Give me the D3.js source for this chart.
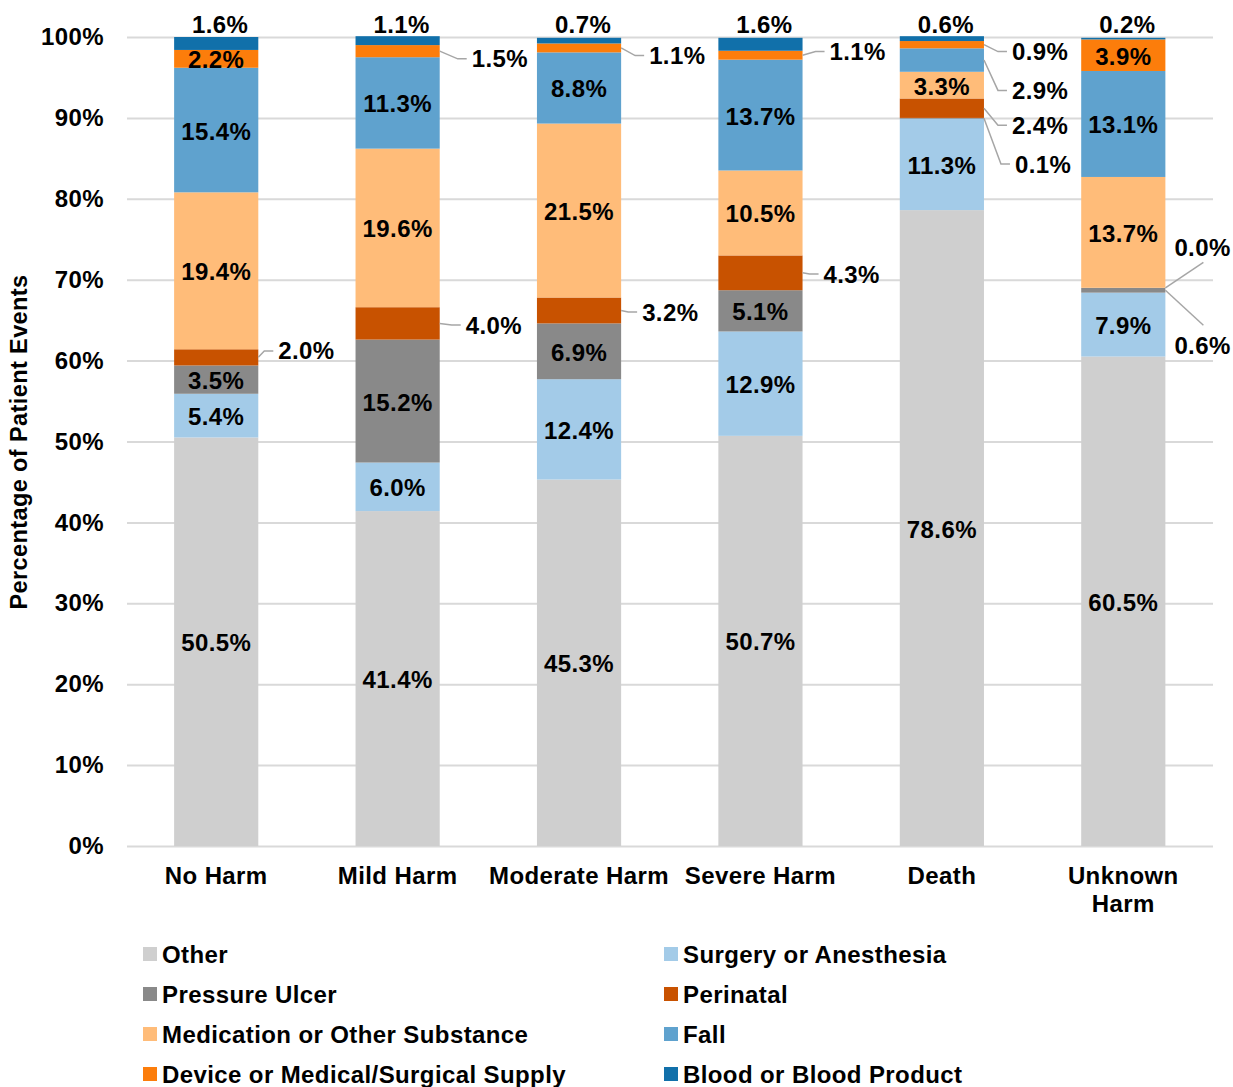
<!DOCTYPE html>
<html>
<head>
<meta charset="utf-8">
<script src="https://cdn.jsdelivr.net/npm/d3@7"></script>
<style>
  html, body { margin: 0; padding: 0; background: #fff; }
  svg { display: block; font-family: "Liberation Sans", Arial, sans-serif; font-weight: bold; }
  svg text { letter-spacing: 0.4px; }
</style>
</head>
<body>
<svg id="chart" width="1233" height="1087"></svg>
<script>
// ---- Data ----
const categories = ["No Harm", "Mild Harm", "Moderate Harm", "Severe Harm", "Death", "Unknown Harm"];
const seriesNames = ["Other", "Surgery or Anesthesia", "Pressure Ulcer", "Perinatal",
  "Medication or Other Substance", "Fall", "Device or Medical/Surgical Supply", "Blood or Blood Product"];
const other      = [50.5, 41.4, 45.3, 50.7, 78.6, 60.5];
const surgery    = [5.4, 6.0, 12.4, 12.9, 11.3, 7.9];
const pressure   = [3.5, 15.2, 6.9, 5.1, 0.1, 0.6];
const perinatal  = [2.0, 4.0, 3.2, 4.3, 2.4, 0.0];
const medication = [19.4, 19.6, 21.5, 10.5, 3.3, 13.7];
const fall       = [15.4, 11.3, 8.8, 13.7, 2.9, 13.1];
const device     = [2.2, 1.5, 1.1, 1.1, 0.9, 3.9];
const blood      = [1.6, 1.1, 0.7, 1.6, 0.6, 0.2];
const yTicks = [0, 10, 20, 30, 40, 50, 60, 70, 80, 90, 100];
const categoryLines = [["No Harm"], ["Mild Harm"], ["Moderate Harm"], ["Severe Harm"], ["Death"], ["Unknown", "Harm"]];

// ---- Styling / layout ----
const colors = ["#cfcfcf", "#a3cbe8", "#898989", "#c85200", "#ffbc79", "#5fa2ce", "#fc7d0b", "#1170aa"];
const seriesValues = [other, surgery, pressure, perinatal, medication, fall, device, blood];
// labels drawn outside the bar with a leader line: category index, series index, label level (in % units), offset
const outsideLabels = [
  {c: 0, s: 3, level: 61.2, dx: 20},
  {c: 1, s: 6, level: 97.3, dx: 32},
  {c: 1, s: 3, level: 64.4, dx: 26},
  {c: 2, s: 6, level: 97.7, dx: 28},
  {c: 2, s: 3, level: 66.0, dx: 21},
  {c: 3, s: 6, level: 98.2, dx: 27},
  {c: 3, s: 3, level: 70.7, dx: 21},
  {c: 4, s: 6, level: 98.2, dx: 28},
  {c: 4, s: 5, level: 93.4, dx: 28},
  {c: 4, s: 3, level: 89.1, dx: 28},
  {c: 4, s: 2, level: 84.3, dx: 31},
  {c: 5, s: 3, level: 74.0, dx: 9, mode: "up"},
  {c: 5, s: 2, level: 61.9, dx: 9, mode: "down"}
];

const svg = d3.select("#chart");
const FS = 24;

const x = d3.scaleBand().domain(categories).range([125.5, 1214]).paddingInner(0.536).paddingOuter(0.268);
const y = d3.scaleLinear().domain([0, 100]).range([846, 37]);

// rows
const rows = categories.map((c, i) => {
  const r = {cat: c};
  seriesNames.forEach((s, j) => r[s] = seriesValues[j][i]);
  return r;
});
const stacked = d3.stack().keys(seriesNames)(rows);

// gridlines
const yAxis = d3.axisLeft(y).tickValues(yTicks).tickFormat(d => d + "%").tickSize(-(1213 - 127)).tickPadding(23);
const gAxis = svg.append("g").attr("transform", "translate(127,0)").call(yAxis);
gAxis.select(".domain").remove();
gAxis.selectAll(".tick line").attr("stroke", "#d9d9d9").attr("stroke-width", 2);
gAxis.selectAll(".tick text").attr("fill", "#000").attr("font-size", FS).attr("font-weight", "bold")
  .attr("font-family", "Liberation Sans, Arial, sans-serif");

// bars
const layers = svg.append("g").selectAll("g").data(stacked).join("g")
  .attr("fill", (d, i) => colors[i]);
layers.selectAll("rect").data(d => d).join("rect")
  .attr("x", d => x(d.data.cat))
  .attr("width", x.bandwidth())
  .attr("y", d => y(d[1]))
  .attr("height", d => Math.max(0, y(d[0]) - y(d[1])));

// labels
const fmt = v => v.toFixed(1) + "%";
const lab = svg.append("g").attr("font-size", FS).attr("fill", "#000");
const isOutside = (c, s) => outsideLabels.some(o => o.c === c && o.s === s);

stacked.forEach((layer, s) => {
  layer.forEach((d, c) => {
    const cx = x(d.data.cat) + x.bandwidth() / 2;
    if (s === seriesNames.length - 1) {
      lab.append("text").attr("x", cx + 4).attr("y", y(100) - 13)
        .attr("text-anchor", "middle").attr("dominant-baseline", "central").text(fmt(seriesValues[s][c]));
    } else if (!isOutside(c, s)) {
      lab.append("text").attr("x", cx).attr("y", (y(d[0]) + y(d[1])) / 2 + 1)
        .attr("text-anchor", "middle").attr("dominant-baseline", "central").text(fmt(seriesValues[s][c]));
    }
  });
});

const leaders = svg.append("g").attr("fill", "none").attr("stroke", "#a6a6a6").attr("stroke-width", 1.5);
outsideLabels.forEach(o => {
  const d = stacked[o.s][o.c];
  const right = x(categories[o.c]) + x.bandwidth();
  const segY = (y(d[0]) + y(d[1])) / 2;
  const ly = y(o.level);
  const left = right + o.dx;
  lab.append("text").attr("x", left).attr("y", ly).attr("dominant-baseline", "central")
    .text(fmt(seriesValues[o.s][o.c]));
  let pts;
  if (o.mode === "up") {
    pts = [[right, segY], [left + 29, ly + 15]];
  } else if (o.mode === "down") {
    pts = [[right, segY], [left + 29, ly - 20]];
  } else {
    pts = [[right, segY], [left - 14, ly], [left - 5, ly]];
  }
  leaders.append("path").attr("d", d3.line()(pts));
});

// category labels
const catG = svg.append("g").attr("font-size", FS).attr("fill", "#000").attr("text-anchor", "middle");
categories.forEach((c, i) => {
  const t = catG.append("text").attr("x", x(c) + x.bandwidth() / 2).attr("y", 884);
  categoryLines[i].forEach((ln, k) => {
    t.append("tspan").attr("x", x(c) + x.bandwidth() / 2).attr("dy", k === 0 ? 0 : 28).text(ln);
  });
});

// y axis title
svg.append("text").attr("transform", "translate(27,442) rotate(-90)")
  .attr("text-anchor", "middle").attr("font-size", 23.5).attr("fill", "#000")
  .text("Percentage of Patient Events");

// legend
const leg = svg.append("g").attr("font-size", FS).attr("fill", "#000");
seriesNames.forEach((s, i) => {
  const col = i % 2, row = Math.floor(i / 2);
  const lx = col === 0 ? 143 : 664;
  const ly = 954 + row * 40;
  leg.append("rect").attr("x", lx).attr("y", ly - 7).attr("width", 14).attr("height", 14).attr("fill", colors[i]);
  leg.append("text").attr("x", lx + 19).attr("y", ly).attr("dominant-baseline", "central").text(s);
});
</script>
</body>
</html>
